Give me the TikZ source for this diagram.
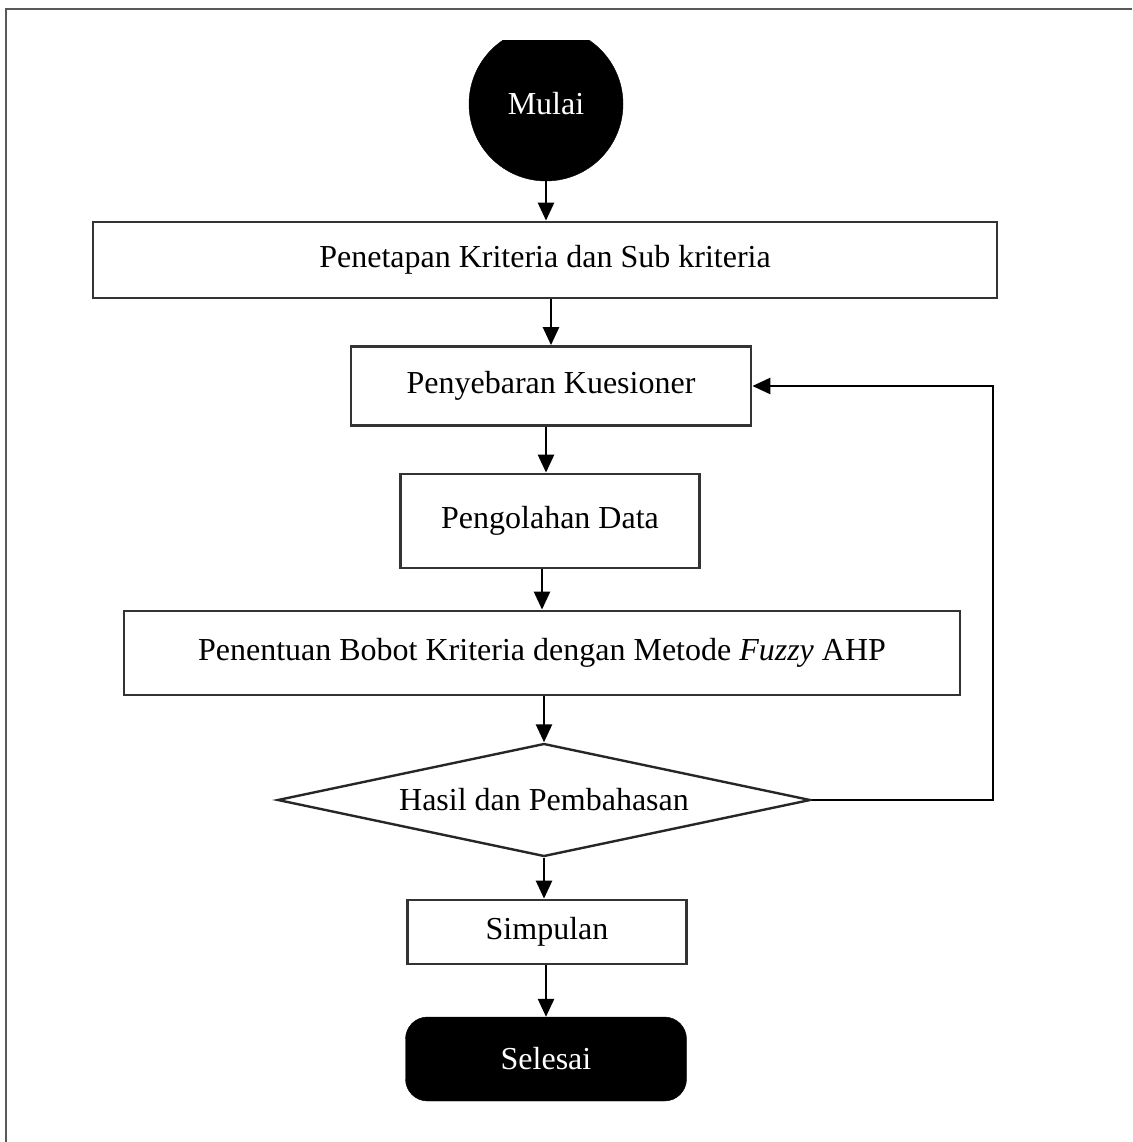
\documentclass[tikz,border=0pt]{standalone}
\usepackage{fontspec}
\setmainfont{Liberation Serif}
\usepackage{tikz}
\usetikzlibrary{arrows.meta, positioning, shapes.geometric, calc}

\begin{document}
\begin{tikzpicture}[
  x=1pt, y=-1pt,
  every node/.style={font=\fontsize{32}{38}\selectfont},
  prosesbox/.style={rectangle, draw=black!80, line width=2.8pt, fill=white,
    inner sep=0pt, align=center},
  terminal/.style={circle, fill=black, draw=black, text=white,
    minimum size=154pt, inner sep=0pt},
  akhir/.style={rectangle, rounded corners=22pt, fill=black, draw=black,
    text=white, inner sep=0pt},
  keputusan/.style={diamond, draw=black!85, line width=2.4pt, fill=white,
    inner sep=0pt, aspect=4.7},
  arr/.style={-{Triangle[length=18pt,width=16pt]}, line width=2.6pt, black},
  bingkai/.style={line width=2pt, black!65},
]

\useasboundingbox (0,0) rectangle (1132,1142);
\draw[bingkai] (6,1142) -- (6,9) -- (1132,9);

\begin{scope}
  \clip (0,41) rectangle (1132,1142);
  \node[terminal] (mulai) at (546,104) {Mulai};
\end{scope}

\node[prosesbox, minimum width=904pt, minimum height=76pt] (kriteria) at (545,260)
  {Penetapan Kriteria dan Sub kriteria};
\node[prosesbox, minimum width=400pt, minimum height=79pt] (kuesioner) at (551,386)
  {Penyebaran Kuesioner};
\node[prosesbox, minimum width=299pt, minimum height=94pt] (olahdata) at (550,521)
  {Pengolahan Data};
\node[prosesbox, minimum width=836pt, minimum height=84pt] (bobot) at (542,653)
  {Penentuan Bobot Kriteria dengan Metode \textit{Fuzzy} AHP};
\node[keputusan, minimum width=533pt, minimum height=113pt] (hasil) at (544,800)
  {Hasil dan Pembahasan};
\node[prosesbox, minimum width=279pt, minimum height=64pt] (simpulan) at (547,932)
  {Simpulan};
\node[akhir, minimum width=281pt, minimum height=84pt] (selesai) at (546,1059)
  {Selesai};
\coordinate (balik) at (993,800);

\draw[arr] (mulai.south) -- (mulai.south |- kriteria.north);
\draw[arr] (kriteria.south -| kuesioner) -- (kuesioner.north);
\draw[arr] (kuesioner.south -| mulai) -- (mulai |- olahdata.north);
\draw[arr] (olahdata.south -| bobot) -- (bobot.north);
\draw[arr] (bobot.south -| hasil) -- (hasil.north);
\draw[arr] (hasil.south) -- (hasil.south |- simpulan.north);
\draw[arr] (simpulan.south -| selesai) -- (selesai.north);
\draw[arr] (hasil.east) -- (balik) |- (kuesioner.east);

\end{tikzpicture}
\end{document}
